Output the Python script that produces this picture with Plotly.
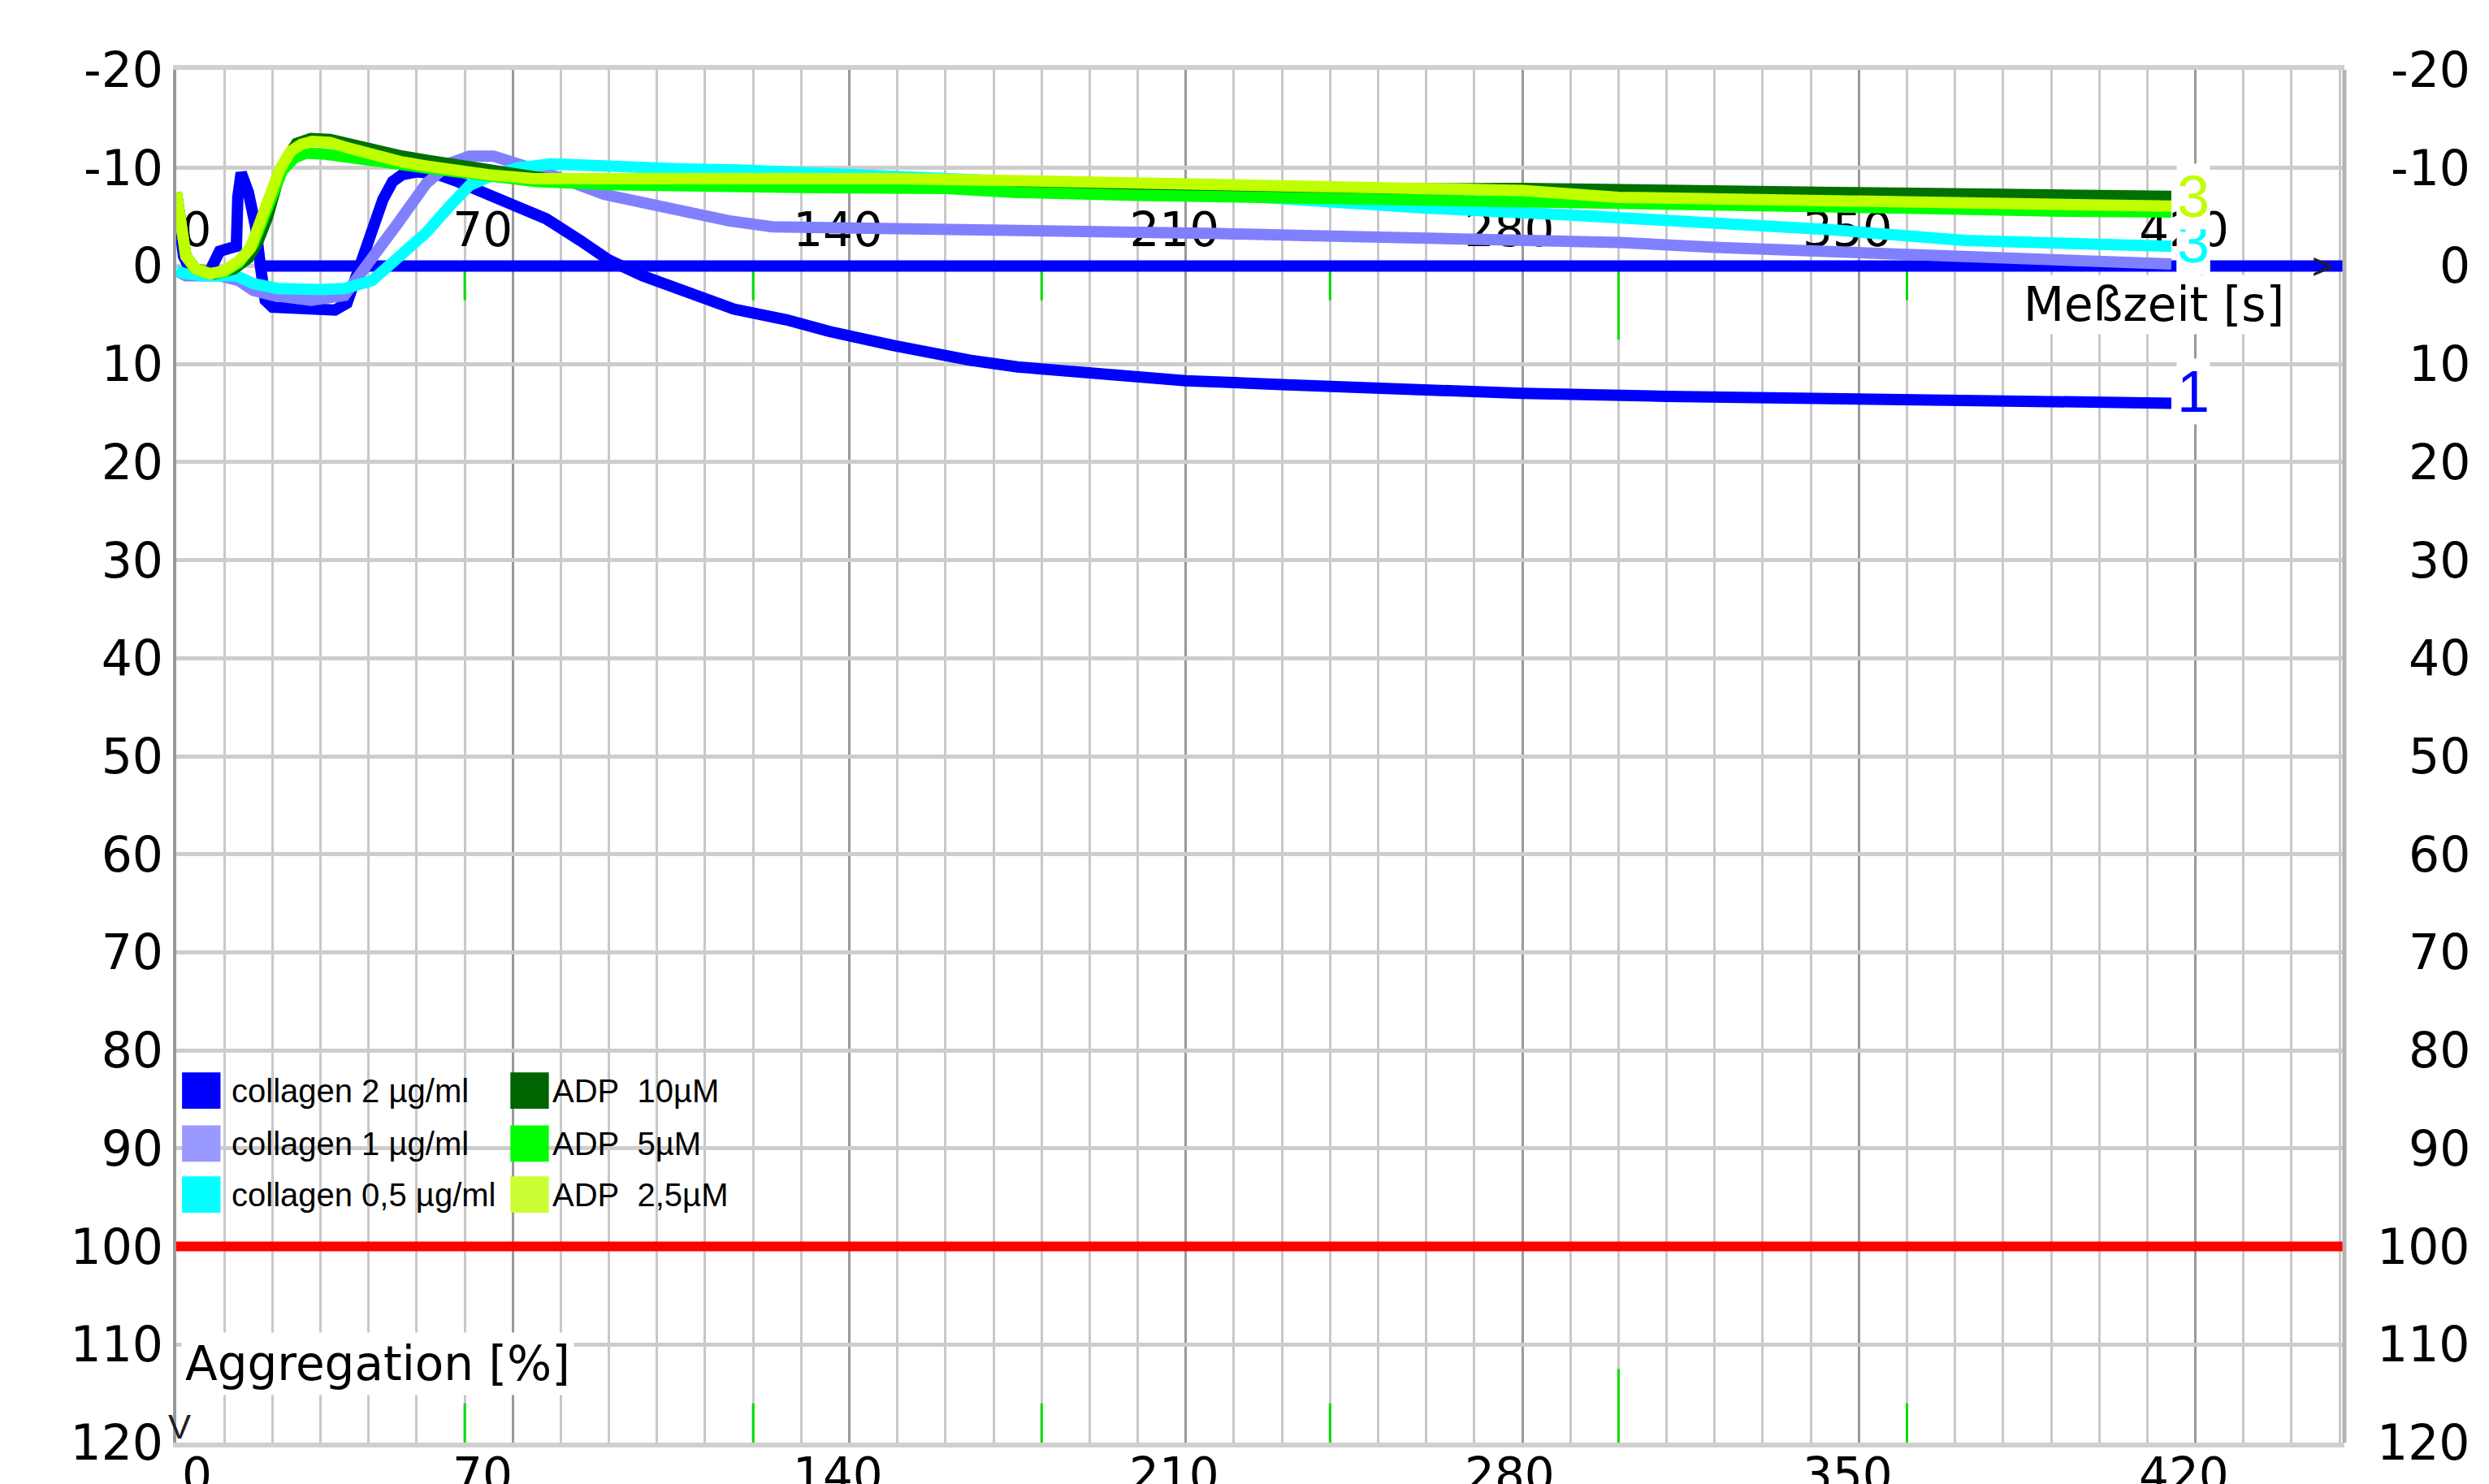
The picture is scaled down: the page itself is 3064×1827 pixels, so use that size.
import plotly.graph_objects as go

# ---------------- data ----------------
T_MAX = 451

X_TICKS = [0, 70, 140, 210, 280, 350, 420]
X_TICK_TEXT = ["0", "70", "140", "210", "280", "350", "420"]
Y_TICKS = [-20, -10, 0, 10, 20, 30, 40, 50, 60, 70, 80, 90, 100, 110, 120]
Y_TICK_TEXT = ["-20", "-10", "0", "10", "20", "30", "40", "50", "60", "70", "80", "90", "100", "110", "120"]

NAMES = ["collagen 2 µg/ml", "collagen 1 µg/ml", "collagen 0,5 µg/ml",
         "ADP  10µM", "ADP  5µM", "ADP  2,5µM"]

c2_t = [0, 0.5, 1.5, 3, 5, 7, 9, 11, 12.5, 12.8, 13.5, 15, 16.5, 17.5, 18.5, 20, 27, 33, 35.5, 37, 39, 41,
        43, 45, 47, 50, 54, 58, 62, 70, 77, 84, 90, 97, 104, 116, 127, 136, 149, 156, 165, 175, 190,
        210, 230, 255, 280, 310, 347, 364, 390, 415]
c2_v = [-7, -5.5, -1, 0.5, 0.8, 0.5, -1.5, -1.8, -2, -7, -9.5, -7.5, -4, 0, 3.5, 4.2, 4.5, 4.5, 3.8, 1.5, -1.5, -4,
        -6.8, -8.6, -9.3, -9.6, -9.4, -8.7, -7.9, -6.4, -4.8, -2.6, -0.6, 1, 2.3, 4.4, 5.5, 6.7, 8.1, 8.8, 9.6, 10.3, 11,
        11.7, 12.1, 12.6, 13, 13.3, 13.5, 13.8, 13.9, 14]

c1_t = [0, 2, 5, 9, 13, 16, 20, 28, 35, 37, 41, 46, 52, 57, 61, 66, 71, 77, 89, 104, 115, 124, 140, 160, 190,
        217, 235, 260, 288, 300, 320, 340, 360, 380, 395, 415]
c1_v = [0.5, 1, 1, 1, 1.5, 2.5, 3, 3.5, 3, 1.5, -1, -4.3, -8.4, -10.5, -11.2, -11.2, -10.5, -9.5, -7.3, -5.7, -4.6,
        -4.0, -3.9, -3.8, -3.7, -3.3, -3.1, -2.9, -2.7, -2.4, -1.9, -1.6, -1.1, -0.9, -0.5, -0.2]

c05_t = [0, 2, 6, 12.5, 16, 21, 30, 35, 40.7, 46, 52, 57.6, 61, 66, 71, 78, 85, 95, 105, 117, 150, 180, 210,
         225, 239, 260, 290, 316, 344, 372, 400, 415]
c05_v = [0.5, 0.8, 1, 1, 1.8, 2.3, 2.4, 2.3, 1.5, -0.7, -3.4, -6.5, -8.2, -9.3, -10, -10.4, -10.2, -10.1, -9.9,
         -9.8, -9.2, -8.5, -7.5, -7, -6.5, -5.9, -5.2, -4.6, -3.7, -2.6, -2.2, -2.0]

adp10_t = [0, 1, 2, 4, 8, 12, 15, 17, 19, 21, 23, 25, 28, 32, 36, 41, 47, 52, 58, 63, 70, 77, 90, 110, 130,
           175, 200, 230, 280, 324, 345, 380, 415]
adp10_v = [-7.5, -4, -1, 0.3, 0.8, 0.3, -0.8, -2.5, -5, -8.5, -11, -12.5, -13, -12.9, -12.4, -11.7, -11.2, -10.8,
           -10.4, -10, -9.4, -8.9, -8.6, -8.4, -8.3, -8.2, -7.9, -7.8, -7.9, -7.8, -7.5, -7.3, -7.1]

adp5_t = [0, 1, 2, 4, 7, 10, 13, 16, 18, 20, 22, 24.5, 27, 31, 36, 41, 52, 60, 75, 90, 110, 130, 160, 175, 200,
          230, 255, 275, 306, 330, 360, 390, 415]
adp5_v = [-7.5, -4, -1, 0.3, 0.8, 0.6, -0.3, -2.2, -4.5, -7.5, -9.7, -11, -11.5, -11.4, -11, -10.6, -10, -9.5,
          -8.6, -8.3, -8.1, -8.0, -7.9, -7.5, -7.2, -7.0, -6.8, -6.6, -6.5, -6.2, -5.9, -5.6, -5.5]

adp25_t = [0, 1, 2, 4, 7, 10, 13, 15.4, 17.5, 19.3, 21.5, 23.8, 26, 28.3, 32, 36, 40.7, 47, 52, 57.6, 65, 74.5,
           90, 110, 130, 150, 175, 195, 210, 230, 260, 280, 300, 330, 360, 390, 415]
adp25_v = [-7.5, -4, -1, 0.3, 0.8, 0.5, -0.5, -1.8, -4.5, -7, -9.8, -11.7, -12.4, -12.7, -12.6, -12, -11.3, -10.6,
           -10.2, -9.8, -9.3, -8.9, -8.9, -8.9, -9.0, -8.9, -8.7, -8.5, -8.4, -8.2, -7.9, -7.7, -7.0, -6.7, -6.6,
           -6.3, -6.1]

SERIES_T = [c2_t, c1_t, c05_t, adp10_t, adp5_t, adp25_t]
SERIES_V = [c2_v, c1_v, c05_v, adp10_v, adp5_v, adp25_v]

MINUTE_MARKS = [60, 120, 180, 240, 300, 360]
LONG_MARK = 300
REFERENCE_LEVEL = 100
BASELINE_START = 17
Y_MIN, Y_MAX = -20, 120

# channel end labels: text, value, series index
END_LABELS = [("2", 1.5, 1), ("3", -2.4, 2), ("3", -7.1, 5), ("1", 12.8, 0)]

# ---------------- styles ----------------
LINE_COLORS = ["#0000FF", "#8080FF", "#00FFFF", "#007000", "#00FF00", "#BFFF00"]
SWATCH_COLORS = ["#0000FF", "#9999FF", "#00FFFF", "#006400", "#00FF00", "#CCFF33"]
TXT_FONT = "DejaVu Sans"
ARIAL = "Liberation Sans, Arial"
X_LABEL_SHIFT_PX = [25, -37, -14, -14, -16, -14, -14]
TOP_LABEL_LEVEL = -3.25
LEGEND_ROWS = [84.1, 89.5, 94.7]
LEGEND_COLS = [(1.2, 9.2, 12.5), (69.5, 77.5, 79.2)]
LINE_W = 14

fig = go.Figure()

# tick labels drawn inside the plot along the time axis (under the curves)
fig.add_trace(go.Scatter(
    x=[t + s / 5.92 for t, s in zip(X_TICKS, X_LABEL_SHIFT_PX)],
    y=[TOP_LABEL_LEVEL] * len(X_TICKS), mode="text", text=X_TICK_TEXT,
    textfont=dict(family=TXT_FONT, size=58, color="black"),
    textposition="middle center", showlegend=False, hoverinfo="skip", cliponaxis=False))

# 100 % reference line
fig.add_trace(go.Scatter(x=[0, T_MAX], y=[REFERENCE_LEVEL, REFERENCE_LEVEL], mode="lines",
                         line=dict(color="#FF0000", width=12), showlegend=False, hoverinfo="skip"))

# minute markers (top, below the baseline, and bottom)
mx, my = [], []
for m in MINUTE_MARKS:
    top_len = 7.5 if m == LONG_MARK else 3.5
    bot_len = 7.5 if m == LONG_MARK else 4
    mx += [m, m, None, m, m, None]
    my += [0, top_len, None, Y_MAX - bot_len, Y_MAX, None]
fig.add_trace(go.Scatter(x=mx, y=my, mode="lines", line=dict(color="#00DD00", width=3),
                         showlegend=False, hoverinfo="skip", connectgaps=False))

# time axis baseline
fig.add_trace(go.Scatter(x=[BASELINE_START, T_MAX], y=[0, 0], mode="lines",
                         line=dict(color="#0000FF", width=14), showlegend=False, hoverinfo="skip",
                         cliponaxis=False))

for i, (t, v) in enumerate(zip(SERIES_T, SERIES_V)):
    fig.add_trace(go.Scatter(x=t, y=v, mode="lines", name=NAMES[i],
                             line=dict(color=LINE_COLORS[i], width=LINE_W),
                             showlegend=False))

shapes = []
# darker 50 % line
shapes.append(dict(type="line", xref="x domain", yref="y", x0=0, x1=1, y0=50, y1=50,
                   line=dict(color="#a0a0a0", width=4), layer="below"))
# right border
shapes.append(dict(type="line", xref="x domain", yref="y domain", x0=1, x1=1, y0=0, y1=1,
                   line=dict(color="#b4b4b4", width=5), layer="above"))
# legend swatches
for i in range(6):
    col = LEGEND_COLS[i // 3]
    row = LEGEND_ROWS[i % 3]
    shapes.append(dict(type="rect", xref="x", yref="y", x0=col[0], x1=col[1],
                       y0=row - 1.85, y1=row + 1.85, fillcolor=SWATCH_COLORS[i],
                       line=dict(width=0), layer="above"))

annotations = []
# bottom tick labels
for t, txt, sh in zip(X_TICKS, X_TICK_TEXT, X_LABEL_SHIFT_PX):
    annotations.append(dict(x=t, y=0, xref="x", yref="paper", text=txt, showarrow=False,
                            xanchor="center", yanchor="middle", xshift=sh, yshift=-40,
                            font=dict(family=TXT_FONT, size=58, color="black")))
# right tick labels
for v, txt in zip(Y_TICKS, Y_TICK_TEXT):
    annotations.append(dict(x=1, y=v, xref="paper", yref="y", text=txt, showarrow=False,
                            xanchor="right", yanchor="middle", xshift=157,
                            font=dict(family=TXT_FONT, size=60, color="black")))
# legend texts
for i in range(6):
    col = LEGEND_COLS[i // 3]
    row = LEGEND_ROWS[i % 3]
    annotations.append(dict(x=col[2], y=row, xref="x", yref="y",
                            text=NAMES[i].replace("  ", "\u00a0\u00a0"), showarrow=False,
                            xanchor="left", yanchor="middle", xshift=-8,
                            font=dict(family=ARIAL, size=40, color="black")))
# channel end labels (first three), then axis title, then the last one
for txt, v, si in END_LABELS[:3]:
    annotations.append(dict(x=419.5, y=v, xref="x", yref="y", text=txt, showarrow=False,
                            xanchor="center", yanchor="middle", bgcolor="white", borderpad=0,
                            font=dict(family=ARIAL, size=72, color=LINE_COLORS[si])))
annotations.append(dict(x=411.3, y=3.9, xref="x", yref="y", text="Meßzeit [s]", showarrow=False,
                        xanchor="center", yanchor="middle", bgcolor="white", borderpad=2,
                        font=dict(family=TXT_FONT, size=58, color="black")))
for txt, v, si in END_LABELS[3:]:
    annotations.append(dict(x=419.5, y=v, xref="x", yref="y", text=txt, showarrow=False,
                            xanchor="center", yanchor="middle", bgcolor="white", borderpad=0,
                            font=dict(family=ARIAL, size=72, color=LINE_COLORS[si])))
annotations.append(dict(x=1, y=112, xref="x", yref="y", text="Aggregation [%]", showarrow=False,
                        xanchor="left", yanchor="middle", bgcolor="white", borderpad=4,
                        font=dict(family=TXT_FONT, size=58, color="black")))
# axis arrows
annotations.append(dict(x=446.5, y=0, xref="x", yref="y", text=">", showarrow=False,
                        xanchor="center", yanchor="middle",
                        font=dict(family=ARIAL, size=44, color="#202020")))
annotations.append(dict(x=0, y=120, xref="x", yref="y", text="V", showarrow=False,
                        xanchor="center", yanchor="bottom", xshift=4, yshift=-6,
                        font=dict(family=ARIAL, size=42, color="#202020")))

fig.update_layout(
    width=3064, height=1827,
    margin=dict(l=209, r=186, t=78, b=59),
    paper_bgcolor="white", plot_bgcolor="white",
    showlegend=False,
    shapes=shapes, annotations=annotations,
    xaxis=dict(range=[0, T_MAX], tick0=0, dtick=70, showticklabels=False, ticks="",
               showgrid=True, gridcolor="#999999", gridwidth=3,
               minor=dict(dtick=10, showgrid=True, gridcolor="#c8c8c8", gridwidth=3),
               zeroline=False, showline=True, mirror=True, linecolor="#d0d0d0", linewidth=6),
    yaxis=dict(range=[Y_MAX, Y_MIN], tickmode="array", tickvals=Y_TICKS, ticktext=Y_TICK_TEXT,
               tickfont=dict(family=TXT_FONT, size=60, color="black"), ticks="",
               ticklabelstandoff=0,
               showgrid=True, gridcolor="#cdcdcd", gridwidth=5, zeroline=False,
               showline=True, linecolor="#999999", linewidth=4),
)

fig.write_html("out.html")
